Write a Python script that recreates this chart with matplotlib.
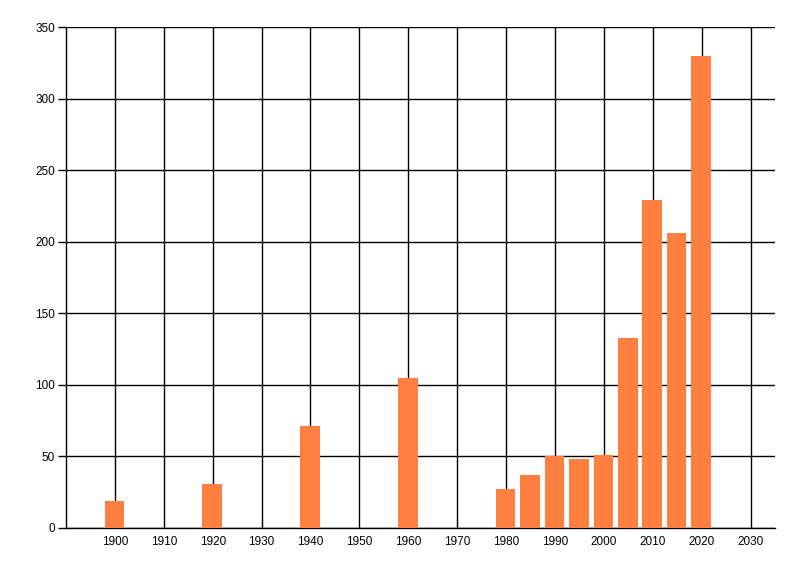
import matplotlib
matplotlib.use("Agg")
import matplotlib.pyplot as plt

plt.rcParams['font.family'] = ['Liberation Sans', 'DejaVu Sans']

years = [1900, 1920, 1940, 1960, 1980, 1985, 1990, 1995, 2000, 2005, 2010, 2015, 2020]
values = [19, 31, 71, 105, 27, 37, 50, 48, 51, 133, 229, 206, 330]
xticks = list(range(1900, 2031, 10))
yticks = list(range(0, 351, 50))

fig = plt.figure(figsize=(8, 5.76), dpi=100)
ax = fig.add_axes([66/800, 1-528/576, (775-66)/800, (528-27)/576])

ax.bar([y - 0.1 for y in years], values, width=4.0, color='#FF7F40', zorder=3, linewidth=0)

ax.set_xlim(1890, 2035)
ax.set_ylim(0, 350)
ax.set_xticks(xticks)
ax.set_yticks(yticks)
ax.set_xticklabels([str(t) for t in xticks], fontsize=8.5)
ax.set_yticklabels([str(t) for t in yticks], fontsize=8.5)
ax.grid(True, color='black', linewidth=1.0, zorder=0)
ax.set_axisbelow(True)
for s in ['top', 'right']:
    ax.spines[s].set_visible(False)
ax.spines['left'].set_linewidth(1.0)
ax.spines['bottom'].set_linewidth(1.0)
ax.tick_params(axis='x', length=0, pad=6)
ax.tick_params(axis='y', length=6, width=1.0, pad=2)

fig.savefig("out.png", dpi=100)
